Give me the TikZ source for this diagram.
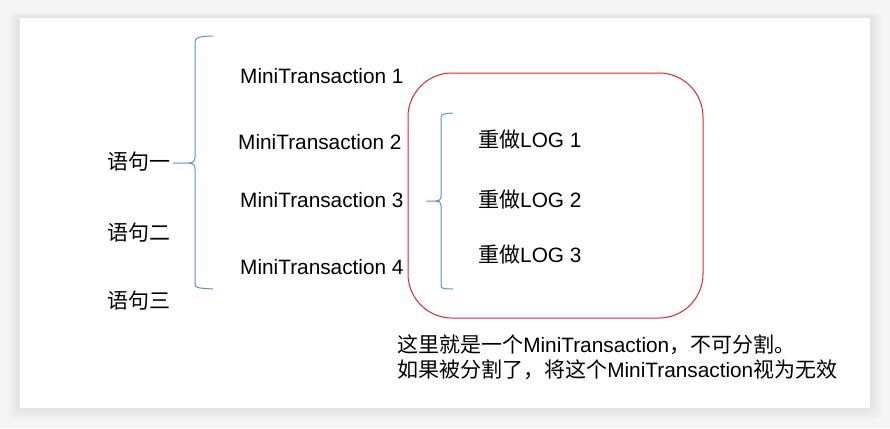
\documentclass[tikz,border=0pt]{standalone}
\usepackage{fontspec}
\setmainfont{Liberation Sans}
\newfontfamily\cjk[Scale=1.01]{Noto Sans CJK SC}
\definecolor{bracecol}{HTML}{5B8FD6}
\definecolor{boxred}{HTML}{E3262B}
\definecolor{bggray}{HTML}{F5F5F5}
\begin{document}
\begin{tikzpicture}[x=1pt,y=-1pt,
  lbl/.style={anchor=west,inner sep=0pt,font=\fontsize{20.8}{24}\selectfont},
  brace/.style={draw=bracecol,line width=1pt,line join=round},
  redbox/.style={draw=boxred,line width=1pt,rounded corners=44pt}]
\useasboundingbox (0,0) rectangle (890,428);
\fill[bggray] (0,0) rectangle (890,428);
% shadow of the card
\foreach \s in {12,10,8,6,4,2}{
  \fill[black,opacity=0.012,rounded corners=6pt] (20-\s,18-\s*0.5) rectangle (870+\s,408+\s);
}
\fill[white] (20,18) rectangle (870,408);

% statements
\node[lbl] (s1) at (107,162) {\cjk 语句一};
\node[lbl] (s2) at (107,233) {\cjk 语句二};
\node[lbl] (s3) at (107,301) {\cjk 语句三};

% mini transactions
\node[lbl] (m1) at (240,76) {MiniTransaction 1};
\node[lbl] (m2) at (238,142) {MiniTransaction 2};
\node[lbl] (m3) at (240,200) {MiniTransaction 3};
\node[lbl] (m4) at (240,267) {MiniTransaction 4};

% left brace
\coordinate (b1top) at (213,36);
\coordinate (b1tip) at (173,163);
\coordinate (b1bot) at (213,289);
\draw[brace] (b1top) .. controls (200,36.5) and (195,37) .. (195,42)
  -- (195,157) .. controls (195,161) and (193,163) .. (189,163) -- (b1tip);
\draw[brace] (189,163) .. controls (193,163) and (195,165) .. (195,169)
  -- (195,284) .. controls (195,288) and (198,288) .. (b1bot);

% red box
\node[redbox,minimum width=295pt,minimum height=245pt,inner sep=0pt] (box) at (555.5,195.5) {};

% inner brace
\coordinate (b2top) at (453,113);
\coordinate (b2tip) at (426,201);
\coordinate (b2bot) at (453,289);
\draw[brace] (b2top) .. controls (445,113.5) and (441,114) .. (441,117)
  -- (441,197) .. controls (441,200) and (439,201) .. (436,201) -- (b2tip);
\draw[brace] (436,201) .. controls (439,201) and (441,202) .. (441,205)
  -- (441,286) .. controls (441,288.5) and (444,289) .. (b2bot);

% redo logs
\node[lbl] (r1) at (478,140) {{\cjk 重做}LOG 1};
\node[lbl] (r2) at (478,200) {{\cjk 重做}LOG 2};
\node[lbl] (r3) at (478,255) {{\cjk 重做}LOG 3};

% note
\node[lbl] (n1) at (397,345) {{\cjk 这里就是一个}MiniTransaction{\cjk ，不可分割。}};
\node[lbl] (n2) at (397,370) {{\cjk 如果被分割了，将这个}MiniTransaction{\cjk 视为无效}};
\end{tikzpicture}
\end{document}
